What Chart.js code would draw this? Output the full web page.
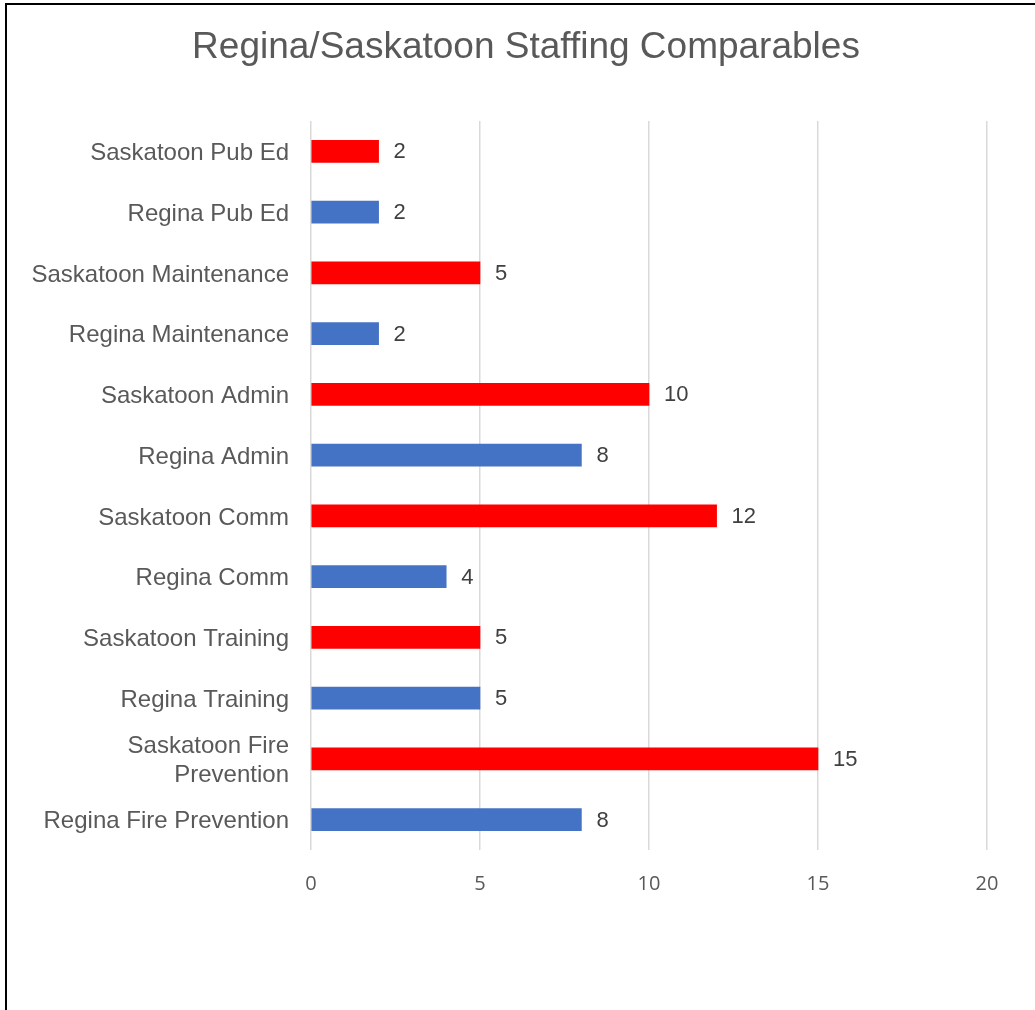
<!DOCTYPE html>
<html>
<head>
<meta charset="utf-8">
<title>Regina/Saskatoon Staffing Comparables</title>
<script src="https://cdn.jsdelivr.net/npm/chart.js@4/dist/chart.umd.min.js"></script>
<style>
  html, body { margin: 0; padding: 0; background: #fff; }
  #wrap { width: 1035px; height: 1010px; position: relative; }
</style>
</head>
<body>
<div id="wrap"><canvas id="staffChart" width="1035" height="1010"></canvas></div>
<script>
"use strict";

// Categories, top to bottom as they appear in the chart
const categories = [
    "Saskatoon Pub Ed",
    "Regina Pub Ed",
    "Saskatoon Maintenance",
    "Regina Maintenance",
    "Saskatoon Admin",
    "Regina Admin",
    "Saskatoon Comm",
    "Regina Comm",
    "Saskatoon Training",
    "Regina Training",
    ["Saskatoon Fire", "Prevention"],
    "Regina Fire Prevention"
];

// Staff counts per category
const staffCounts = [2, 2, 5, 2, 10, 8, 12, 4, 5, 5, 15, 8];

// x-axis ticks
const xTicks = [0, 5, 10, 15, 20];

const TITLE = "Regina/Saskatoon Staffing Comparables";
const SASKATOON_RED = "#ff0000";
const REGINA_BLUE = "#4472c4";

const barColors = categories.map(c => {
    const name = Array.isArray(c) ? c.join(" ") : c;
    return name.startsWith("Saskatoon") ? SASKATOON_RED : REGINA_BLUE;
});

// White background, left/top frame lines and the title
const framePlugin = {
    id: "frame",
    beforeDraw(chart) {
        const c = chart.ctx;
        c.save();
        c.fillStyle = "#fff";
        c.fillRect(0, 0, chart.width, chart.height);
        c.strokeStyle = "#000";
        c.lineWidth = 2;
        c.beginPath();
        c.moveTo(6, chart.height);
        c.lineTo(6, 4);
        c.lineTo(chart.width, 4);
        c.stroke();

        // title sits a bit right of the canvas centre, as in the original
        c.font = "37px 'Liberation Sans', Arial, sans-serif";
        c.fillStyle = "#595959";
        c.textAlign = "center";
        c.textBaseline = "middle";
        c.fillText(TITLE, 526, 48);
        c.restore();
    }
};

// Value labels just past the end of each bar
const valueLabels = {
    id: "valueLabels",
    afterDatasetsDraw(chart) {
        const c = chart.ctx;
        const meta = chart.getDatasetMeta(0);
        c.save();
        c.font = "22px 'Liberation Sans', Arial, sans-serif";
        c.fillStyle = "#404040";
        c.textAlign = "left";
        c.textBaseline = "middle";
        meta.data.forEach((bar, i) => {
            c.fillText(String(staffCounts[i]), bar.x + 15, bar.y + 1);
        });
        c.restore();
    }
};

const ctx = document.getElementById("staffChart").getContext("2d");
new Chart(ctx, {
    type: "bar",
    data: {
        labels: categories,
        datasets: [{
            data: staffCounts,
            backgroundColor: barColors,
            barThickness: 22
        }]
    },
    options: {
        indexAxis: "y",
        responsive: false,
        animation: false,
        layout: { padding: { left: 0, right: 48, top: 121, bottom: 100 } },
        plugins: {
            legend: { display: false },
            tooltip: { enabled: false },
            title: { display: false }
        },
        scales: {
            x: {
                min: 0,
                max: 20,
                afterBuildTicks(axis) {
                    axis.ticks = xTicks.map(v => ({ value: v }));
                },
                afterFit(axis) { axis.height = 60; },
                grid: { color: "#d9d9d9", lineWidth: 1.5, drawTicks: false },
                border: { display: false },
                ticks: {
                    padding: 22,
                    color: "#595959",
                    font: { family: "'Open Sans', sans-serif", size: 20 }
                }
            },
            y: {
                afterFit(axis) { axis.width = 311; },
                grid: { display: false, drawTicks: false },
                border: { display: false },
                ticks: {
                    padding: 22,
                    labelOffset: 2,
                    color: "#595959",
                    font: { family: "'Liberation Sans', Arial, sans-serif", size: 24 }
                }
            }
        }
    },
    plugins: [framePlugin, valueLabels]
});
</script>
</body>
</html>
